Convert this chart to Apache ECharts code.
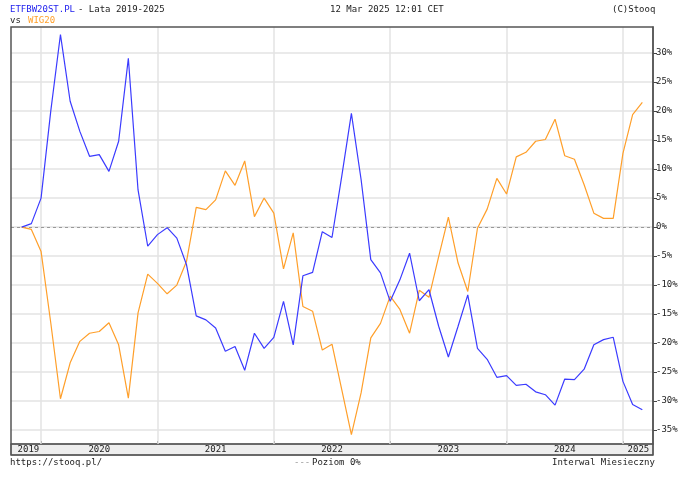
<!DOCTYPE html>
<html><head><meta charset="utf-8">
<script src="https://cdn.jsdelivr.net/npm/echarts@6/dist/echarts.min.js"></script>
<style>html,body{margin:0;padding:0;background:#fff}#c{width:684px;height:479px}</style>
</head><body><div id="c"></div>
<script>
// month index 0 = Nov 2019 ... 64 = Mar 2025
const etfValues = [0,0.6,5,20,33.2,21.7,16.5,12.2,12.5,9.6,14.8,29.1,6.4,-3.3,-1.3,-0.1,-1.9,-6.5,
  -15.3,-16.0,-17.4,-21.4,-20.6,-24.7,-18.3,-20.9,-19.0,-12.8,-20.3,-8.4,-7.8,-0.8,-1.8,8.7,19.6,8.2,
  -5.6,-7.9,-12.8,-9.1,-4.5,-12.7,-10.8,-17.1,-22.4,-17.1,-11.7,-20.9,-22.8,-25.9,-25.6,-27.3,-27.1,-28.4,
  -28.9,-30.7,-26.2,-26.3,-24.5,-20.3,-19.4,-19.0,-26.6,-30.6,-31.5];
const wigValues = [0,-0.4,-4.2,-16.5,-29.6,-23.4,-19.7,-18.3,-18,-16.5,-20.3,-29.5,-14.8,-8.1,-9.7,-11.5,-10,-5.9,
  3.4,3.0,4.7,9.7,7.2,11.4,1.8,5.0,2.4,-7.2,-1.0,-13.7,-14.5,-21.2,-20.2,-28.0,-35.8,-28.6,
  -19.1,-16.6,-11.9,-14.2,-18.3,-10.9,-12.1,-5.1,1.7,-6.2,-11.1,-0.2,3.1,8.4,5.7,12.1,12.9,14.8,
  15.1,18.6,12.3,11.7,7.3,2.4,1.5,1.5,12.7,19.4,21.5];
const yearBoundaries = [2,14,26,38,50,62];
const yearLabelPos = [0.7,8,20,32,44,56,63.6];
const yearLabels = ['2019','2020','2021','2022','2023','2024','2025'];
const yTicks = [-35,-30,-25,-20,-15,-10,-5,0,5,10,15,20,25,30];

const font = 'DejaVu Sans Mono';
const F = '9px '+font;
const chart = echarts.init(document.getElementById('c'));
const pts = a => a.map((v,i)=>[i,v]);
chart.setOption({
  animation:false,
  textStyle:{fontFamily:font},
  grid:{left:11,right:31,top:27,bottom:35},
  graphic:[
    {type:'rect',shape:{x:11,y:27,width:642,height:428},style:{fill:'none',stroke:'#555',lineWidth:1.5},z:10},
    {type:'rect',shape:{x:11,y:444,width:642,height:11},style:{fill:'#eeeeee',stroke:'#555',lineWidth:1},z:0},
    {type:'text',left:10,top:5,style:{text:'ETFBW20ST.PL',fill:'#2222ee',font:F}},
    {type:'text',left:78,top:5,style:{text:'- Lata 2019-2025',fill:'#222',font:F}},
    {type:'text',left:330,top:5,style:{text:'12 Mar 2025 12:01 CET',fill:'#222',font:F}},
    {type:'text',left:612,top:5,style:{text:'(C)Stooq',fill:'#222',font:F}},
    {type:'text',left:10,top:16,style:{text:'vs',fill:'#222',font:F}},
    {type:'text',left:28,top:16,style:{text:'WIG20',fill:'#ff9f2a',font:F}},
    {type:'text',left:10,top:458,style:{text:'https://stooq.pl/',fill:'#222',font:F}},
    {type:'text',left:294,top:458,style:{text:'---',fill:'#999',font:F}},
    {type:'text',left:312,top:458,style:{text:'Poziom 0%',fill:'#222',font:F}},
    {type:'text',left:552,top:458,style:{text:'Interwal Miesieczny',fill:'#222',font:F}}
  ],
  xAxis:{type:'value',min:-1.1,max:65.1,
    axisLine:{show:true,onZero:false,lineStyle:{color:'#555',width:1.5}},
    axisTick:{show:true,customValues:yearBoundaries,length:-3,lineStyle:{color:'#444'}},
    axisLabel:{customValues:yearLabelPos,margin:1,color:'#222',fontSize:9,fontFamily:font,
      formatter:v=>yearLabels[Math.floor((v-2)/12)+1]},
    splitLine:{show:false}},
  yAxis:{type:'value',position:'right',min:-37.4,max:34.5,
    axisLine:{show:true,onZero:false,lineStyle:{color:'#555',width:1.5}},
    axisTick:{show:true,customValues:yTicks,length:4,lineStyle:{color:'#444'}},
    axisLabel:{customValues:yTicks,margin:3,color:'#222',fontSize:9,fontFamily:font,formatter:v=>v+'%'},
    splitLine:{show:true,lineStyle:{color:'#e3e3e3',width:1.5}}},
  series:[
    {type:'line',data:pts(wigValues),symbol:'none',lineStyle:{color:'#ff9f2a',width:1.2},z:3,
      markLine:{silent:true,symbol:'none',label:{show:false},animation:false,
        data:[...yearBoundaries.map(v=>({xAxis:v,lineStyle:{color:'#e3e3e3',width:1.5,type:'solid'}})),
              {yAxis:0,lineStyle:{color:'#999',width:1,type:[3,3]}}],z:1}},
    {type:'line',data:pts(etfValues),symbol:'none',lineStyle:{color:'#3b3bff',width:1.2},z:4}
  ]
});
</script></body></html>
